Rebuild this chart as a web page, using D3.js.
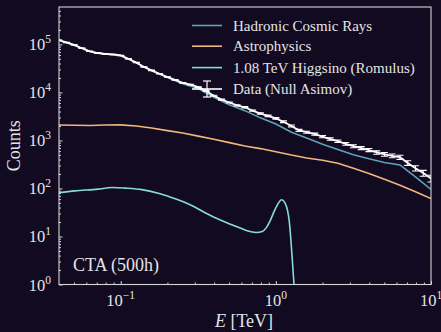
<!DOCTYPE html>
<html>
<head>
<meta charset="utf-8">
<script src="https://cdn.jsdelivr.net/npm/d3@7"></script>
<style>
  html, body { margin: 0; padding: 0; background: #110a21; }
  svg { display: block; }
</style>
</head>
<body>
<svg id="chart" width="441" height="332"></svg>
<script>
// Energy grid (TeV) shared by the background models
const energyGrid = [0.04, 0.05, 0.063, 0.079, 0.1, 0.126, 0.158, 0.2, 0.251, 0.316,
  0.398, 0.501, 0.631, 0.794, 1.0, 1.26, 1.58, 2.0, 2.51, 3.16, 3.98, 5.01, 6.31, 7.94, 10];

// Hadronic cosmic-ray background counts
const hadronicCounts = [120200, 95500, 70800, 63100, 58200, 41700, 28200, 20400, 15100, 12000,
  7940, 5500, 4170, 2950, 2190, 1480, 1120, 832, 646, 501, 417, 347, 309, 174, 95.5];

// Astrophysical background counts
const astroCounts = [2090, 2065, 2040, 2090, 2110, 2000, 1820, 1600, 1430, 1230,
  1060, 900, 767, 676, 582, 495, 432, 385, 335, 263, 204, 155, 117, 85, 61.7];

// Higgsino signal (1.08 TeV, Romulus)
const higgsinoE = [0.04, 0.0507, 0.0714, 0.0879, 0.1067, 0.137, 0.1795, 0.224, 0.28, 0.35,
  0.438, 0.546, 0.682, 0.746, 0.817, 0.866, 0.918, 0.975, 1.019, 1.089,
  1.14, 1.189, 1.219, 1.247, 1.274, 1.303, 1.334];
const higgsinoCounts = [82.0, 89.2, 96.7, 104.4, 101.4, 94.4, 77.8, 61.2, 45.9, 31.3,
  22.1, 16.6, 12.7, 12.1, 12.7, 15.1, 21.1, 33.3, 44.4, 58.3,
  51.3, 34.9, 21.1, 9.3, 3.57, 1.24, 0.48];

// Null Asimov data: bin centres, counts and relative errors
const dataE = [0.0398, 0.0447, 0.0501, 0.0562, 0.0631, 0.0708, 0.0794, 0.0891, 0.1, 0.112,
  0.126, 0.141, 0.158, 0.178, 0.2, 0.224, 0.251, 0.282, 0.316, 0.355,
  0.398, 0.447, 0.501, 0.562, 0.631, 0.708, 0.794, 0.891, 1.0, 1.12,
  1.26, 1.41, 1.58, 1.78, 2.0, 2.24, 2.51, 2.82, 3.16, 3.55,
  3.98, 4.47, 5.01, 5.62, 6.31, 7.08, 7.94, 8.91, 10.0];
const dataCounts = [123000, 109600, 97700, 83200, 71600, 66100, 63100, 61700, 58900, 50100,
  41700, 33900, 28800, 24500, 20900, 18200, 15800, 14500, 12900, 10700,
  8510, 7080, 6170, 5370, 4900, 4170, 3630, 3240, 2880, 2450,
  2000, 1620, 1480, 1350, 1200, 1070, 966, 851, 759, 692,
  631, 562, 513, 479, 447, 339, 263, 209, 162];
const dataRelErr = [0.006, 0.006, 0.007, 0.007, 0.008, 0.008, 0.008, 0.008, 0.008, 0.009,
  0.010, 0.011, 0.012, 0.013, 0.014, 0.015, 0.016, 0.017, 0.018, 0.020,
  0.022, 0.024, 0.026, 0.028, 0.030, 0.032, 0.034, 0.036, 0.038, 0.040,
  0.044, 0.048, 0.050, 0.052, 0.055, 0.058, 0.060, 0.065, 0.070, 0.072,
  0.075, 0.080, 0.085, 0.090, 0.100, 0.110, 0.125, 0.140, 0.160];

// Axis ticks
const xTickValues = [0.1, 1, 10];
const xTickExponents = ["\u22121", "0", "1"];
const yTickValues = [1, 10, 100, 1000, 10000, 100000];
const yTickExponents = ["0", "1", "2", "3", "4", "5"];

const seriesNames = ["Hadronic Cosmic Rays", "Astrophysics", "1.08 TeV Higgsino (Romulus)", "Data (Null Asimov)"];
const seriesColors = ["#5fa3b9", "#f2b67c", "#84dcdc", "#ffffff"];

const FONT = "'Liberation Serif', 'DejaVu Serif', serif";
const TEXT_COLOR = "#e4e4e4";

const W = 441, H = 332;
const plot = { left: 59, right: 431, top: 7, bottom: 284.5 };

const svg = d3.select("#chart");
svg.append("rect").attr("width", W).attr("height", H).attr("fill", "#110a21");

const x = d3.scaleLog().domain([0.04, 10]).range([plot.left, plot.right]);
const y = d3.scaleLog().domain([1, 6e5]).range([plot.bottom, plot.top]);

svg.append("clipPath").attr("id", "plotClip")
  .append("rect")
  .attr("x", plot.left).attr("y", plot.top)
  .attr("width", plot.right - plot.left).attr("height", plot.bottom - plot.top);

const g = svg.append("g").attr("clip-path", "url(#plotClip)");

const straight = d3.line().x(d => x(d[0])).y(d => y(d[1]));
const smooth = d3.line().x(d => x(d[0])).y(d => y(d[1])).curve(d3.curveMonotoneX);

const hadronic = energyGrid.map((e, i) => [e, hadronicCounts[i]]);
const astro = energyGrid.map((e, i) => [e, astroCounts[i]]);
const higgsino = higgsinoE.map((e, i) => [e, higgsinoCounts[i]]);
const data = dataE.map((e, i) => [e, dataCounts[i], dataRelErr[i]]);

g.append("path").datum(hadronic).attr("d", straight)
  .attr("fill", "none").attr("stroke", seriesColors[0]).attr("stroke-width", 1.6);
g.append("path").datum(astro).attr("d", straight)
  .attr("fill", "none").attr("stroke", seriesColors[1]).attr("stroke-width", 1.6);
g.append("path").datum(higgsino).attr("d", smooth)
  .attr("fill", "none").attr("stroke", seriesColors[2]).attr("stroke-width", 1.6);

// Data line with error bars and caps
g.append("path").datum(data).attr("d", straight)
  .attr("fill", "none").attr("stroke", seriesColors[3]).attr("stroke-width", 1.8);
const eb = g.append("g").attr("stroke", seriesColors[3]).attr("stroke-width", 1.1);
data.forEach(d => {
  const px = x(d[0]);
  const yLo = y(d[1] * (1 - d[2])), yHi = y(d[1] * (1 + d[2]));
  eb.append("line").attr("x1", px).attr("x2", px).attr("y1", yLo).attr("y2", yHi);
  eb.append("line").attr("x1", px - 3.5).attr("x2", px + 3.5).attr("y1", yLo).attr("y2", yLo);
  eb.append("line").attr("x1", px - 3.5).attr("x2", px + 3.5).attr("y1", yHi).attr("y2", yHi);
});

// Spines
svg.append("rect")
  .attr("x", plot.left).attr("y", plot.top)
  .attr("width", plot.right - plot.left).attr("height", plot.bottom - plot.top)
  .attr("fill", "none").attr("stroke", "#d4d4d4").attr("stroke-width", 1.1);

// Minor tick positions (2..9 within each decade)
const xMinor = [], yMinor = [];
for (let p = -2; p <= 0; p++) for (let k = 2; k <= 9; k++) {
  const v = k * Math.pow(10, p);
  if (v > 0.04 && v < 10) xMinor.push(v);
}
for (let p = 0; p <= 5; p++) for (let k = 2; k <= 9; k++) {
  const v = k * Math.pow(10, p);
  if (v < 6e5) yMinor.push(v);
}

function styleAxis(sel) {
  sel.select(".domain").remove();
  sel.selectAll("line").attr("stroke", "#d4d4d4").attr("stroke-width", 1);
  sel.selectAll("text").remove();
}

svg.append("g").attr("transform", `translate(0,${plot.bottom})`)
  .call(d3.axisBottom(x).tickValues(xTickValues).tickSize(-3.5).tickSizeOuter(0)).call(styleAxis);
svg.append("g").attr("transform", `translate(0,${plot.bottom})`)
  .call(d3.axisBottom(x).tickValues(xMinor).tickSize(-2).tickSizeOuter(0)).call(styleAxis);
svg.append("g").attr("transform", `translate(${plot.left},0)`)
  .call(d3.axisLeft(y).tickValues(yTickValues).tickSize(-3.5).tickSizeOuter(0)).call(styleAxis);
svg.append("g").attr("transform", `translate(${plot.left},0)`)
  .call(d3.axisLeft(y).tickValues(yMinor).tickSize(-2).tickSizeOuter(0)).call(styleAxis);

function addText(parent) {
  return parent.append("text").attr("font-family", FONT).attr("fill", TEXT_COLOR);
}

// Power-of-ten tick labels
function powerLabel(parent, px, py, exp, anchor) {
  const t = addText(parent).attr("x", px).attr("y", py)
    .attr("text-anchor", anchor).attr("font-size", 16.5);
  t.append("tspan").text("10");
  t.append("tspan").attr("dy", -7).attr("font-size", 11.5).text(exp);
  return t;
}
xTickValues.forEach((v, i) => powerLabel(svg, x(v), 305.5, xTickExponents[i], "middle"));
yTickValues.forEach((v, i) => powerLabel(svg, 51, y(v) + 6, yTickExponents[i], "end"));

// Axis titles
const xt = addText(svg).attr("x", 244).attr("y", 326.5)
  .attr("text-anchor", "middle").attr("font-size", 18);
xt.append("tspan").attr("font-style", "italic").text("E");
xt.append("tspan").text(" [TeV]");

addText(svg)
  .attr("transform", `translate(20,${(plot.top + plot.bottom) / 2}) rotate(-90)`)
  .attr("text-anchor", "middle").attr("font-size", 18).text("Counts");

addText(svg).attr("x", 73).attr("y", 271).attr("font-size", 18).text("CTA (500h)");

// Legend
const legendRows = [25.5, 46.2, 67.6, 89];
const legend = svg.append("g");
seriesNames.forEach((name, i) => {
  const ly = legendRows[i];
  legend.append("line").attr("x1", 192).attr("x2", 222).attr("y1", ly).attr("y2", ly)
    .attr("stroke", seriesColors[i]).attr("stroke-width", 1.6);
  if (i === 3) {
    legend.append("line").attr("x1", 207).attr("x2", 207).attr("y1", ly - 8).attr("y2", ly + 8)
      .attr("stroke", "#fff").attr("stroke-width", 1.2);
    legend.append("line").attr("x1", 203).attr("x2", 211).attr("y1", ly - 8).attr("y2", ly - 8)
      .attr("stroke", "#fff").attr("stroke-width", 1.2);
    legend.append("line").attr("x1", 203).attr("x2", 211).attr("y1", ly + 8).attr("y2", ly + 8)
      .attr("stroke", "#fff").attr("stroke-width", 1.2);
  }
  addText(legend).attr("x", 233).attr("y", ly + 5).attr("font-size", 15).text(name);
});
</script>
</body>
</html>
